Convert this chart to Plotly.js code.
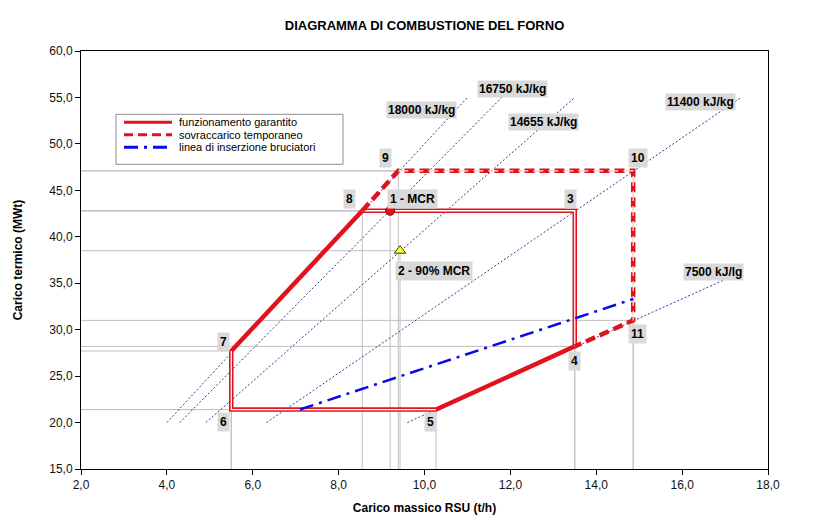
<!DOCTYPE html>
<html>
<head>
<meta charset="utf-8">
<script src="https://cdn.plot.ly/plotly-3.0.1.min.js"></script>
<style>html,body{margin:0;padding:0;background:#fff;}#chart{width:836px;height:523px;}</style>
</head>
<body>
<div id="chart"></div>
<script>
// ---- Data ----
const pointNames = ['1 - MCR', '2 - 90% MCR', '3', '4', '5', '6', '7', '8', '9', '10', '11'];
const pointX = [9.2, 9.43, 13.5, 13.5, 10.27, 5.5, 5.5, 8.55, 9.39, 14.86, 14.86];
const pointY = [42.8, 38.5, 42.8, 28.2, 21.4, 21.4, 27.7, 42.8, 47.1, 47.1, 31.0];

// label positions (data coords) for point tags
const tagX = [9.71, 10.22, 13.39, 13.5, 10.15, 5.33, 5.33, 8.26, 9.08, 14.97, 14.97];
const tagY = [44.1, 36.3, 44.1, 26.6, 20.1, 20.1, 28.7, 44.1, 48.5, 48.5, 29.5];

// guaranteed operation envelope: 8-3-4-5-6-7-8
const guaranteedOrder = ['8', '3', '4', '5', '6', '7', '8'];
const guaranteedDouble = [['8', '3', '4'], ['5', '6', '7']];
// temporary overload: 8-9-10-11-4
const overloadOrder = ['8', '9', '10', '11', '4'];
const overloadDouble = [['9', '10', '11']];

// burner insertion line
const burnerX = [7.1, 14.86];
const burnerY = [21.4, 33.3];

// iso heating-value lines
const isoNames = ['18000 kJ/kg', '16750 kJ/kg', '14655 kJ/kg', '11400 kJ/kg', '7500 kJ/lg'];
const isoX0 = [4.0, 4.3, 4.91, 6.32, 9.6];
const isoY0 = [20, 20, 20, 20, 20];
const isoX1 = [11.0, 11.8, 13.5, 17.37, 17.0];
const isoY1 = [55, 55, 55, 55, 35.4];
const isoTagX = [9.94, 12.06, 12.78, 16.42, 16.74];
const isoTagY = [53.7, 55.9, 52.4, 54.5, 36.2];

const xTicks = [2, 4, 6, 8, 10, 12, 14, 16, 18];
const yTicks = [15, 20, 25, 30, 35, 40, 45, 50, 55, 60];

const legendNames = ['funzionamento garantito', 'sovraccarico temporaneo', 'linea di inserzione bruciatori'];

// ---- build ----
const idx = n => pointNames.indexOf(n);
const px = n => pointX[idx(n)];
const py = n => pointY[idx(n)];

const RED = '#e0121c';
const BLUE = '#0a0ae6';
const FONT = 'Arial, Liberation Sans, sans-serif';
const traces = [];

// drop lines to axes
const dropX = [], dropY = [];
for (let i = 0; i < pointX.length; i++) {
  dropX.push(pointX[i], pointX[i], null, 2, pointX[i], null);
  dropY.push(15, pointY[i], null, pointY[i], pointY[i], null);
}
traces.push({x: dropX, y: dropY, mode: 'lines', line: {color: '#c0c0c0', width: 1}, hoverinfo: 'skip'});

// iso lines
const isoLX = [], isoLY = [];
for (let i = 0; i < isoNames.length; i++) {
  isoLX.push(isoX0[i], isoX1[i], null);
  isoLY.push(isoY0[i], isoY1[i], null);
}
traces.push({x: isoLX, y: isoLY, mode: 'lines', line: {color: '#3a3a8e', width: 1, dash: '2px,2px'}, hoverinfo: 'skip'});

// guaranteed envelope
traces.push({x: guaranteedOrder.map(px), y: guaranteedOrder.map(py), mode: 'lines',
  name: legendNames[0], line: {color: RED, width: 4.5}, hoverinfo: 'skip'});
guaranteedDouble.forEach(seg => traces.push({x: seg.map(px), y: seg.map(py), mode: 'lines',
  line: {color: '#ffffff', width: 1.3}, hoverinfo: 'skip'}));

// overload
const ovDash = '10px,5px';
traces.push({x: overloadOrder.map(px), y: overloadOrder.map(py), mode: 'lines',
  name: legendNames[1], line: {color: RED, width: 4.5, dash: ovDash}, hoverinfo: 'skip'});
overloadDouble.forEach(seg => traces.push({x: seg.map(px), y: seg.map(py), mode: 'lines',
  line: {color: '#ffe0e0', width: 1.3, dash: ovDash}, hoverinfo: 'skip'}));

// burner line
const bDash = '14px,6px,3px,6px';
traces.push({x: burnerX, y: burnerY, mode: 'lines', name: legendNames[2],
  line: {color: BLUE, width: 2.5, dash: bDash}, hoverinfo: 'skip'});

// markers
traces.push({x: [px('1 - MCR')], y: [py('1 - MCR')], mode: 'markers',
  marker: {symbol: 'circle', size: 9, color: RED, line: {color: '#8b0000', width: 1}}});
traces.push({x: [px('2 - 90% MCR')], y: [py('2 - 90% MCR')], mode: 'markers',
  marker: {symbol: 'triangle-up', size: 10, color: '#ffff33', line: {color: '#404000', width: 1}}});

const annFont = {family: FONT, size: 12, color: '#000'};
const annotations = [];
pointNames.forEach((n, i) => annotations.push({x: tagX[i], y: tagY[i], xref: 'x', yref: 'y', text: '<b>' + n + '</b>',
  showarrow: false, bgcolor: '#d9d9d9', font: annFont, borderpad: 2}));
isoNames.forEach((n, i) => annotations.push({x: isoTagX[i], y: isoTagY[i], xref: 'x', yref: 'y', text: '<b>' + n + '</b>',
  showarrow: false, bgcolor: '#d9d9d9', font: annFont, borderpad: 1}));

// custom legend box (paper coordinates)
const plotL = 81, plotW = 687, plotB = 468.7, plotH = 418;
const pX = v => (v - plotL) / plotW;
const pY = v => (plotB - v) / plotH;
const shapes = [];
shapes.push({type: 'rect', xref: 'paper', yref: 'paper', x0: pX(116), x1: pX(343), y0: pY(114), y1: pY(164),
  line: {color: '#8c8c8c', width: 1}, fillcolor: '#ffffff', layer: 'above'});
const legStyles = [
  {color: RED, width: 3, dash: 'solid'},
  {color: RED, width: 3, dash: '9px,5px'},
  {color: BLUE, width: 3, dash: '14px,6px,3px,6px'}
];
const legRowY = [122, 134.5, 147];
legendNames.forEach((n, i) => {
  shapes.push({type: 'line', xref: 'paper', yref: 'paper', x0: pX(124), x1: pX(172), y0: pY(legRowY[i]), y1: pY(legRowY[i]),
    line: legStyles[i], layer: 'above'});
  annotations.push({xref: 'paper', yref: 'paper', x: pX(177), y: pY(legRowY[i]), xanchor: 'left', yanchor: 'middle',
    text: n, showarrow: false, font: {family: FONT, size: 11, color: '#000'}});
});

const tickFont = {family: FONT, size: 12, color: '#111'};
const layout = {
  width: 836, height: 523,
  margin: {l: 81, r: 68, t: 51, b: 54},
  paper_bgcolor: '#fff', plot_bgcolor: '#fff',
  separators: ',.',
  showlegend: false,
  title: {text: '<b>DIAGRAMMA DI COMBUSTIONE DEL FORNO</b>', x: 0.5, xref: 'paper', y: 0.952, yref: 'container', yanchor: 'middle',
    font: {family: FONT, size: 13, color: '#000'}},
  xaxis: {range: [2, 18], tickvals: xTicks, tickformat: '.1f', showgrid: false, zeroline: false,
    showline: true, linecolor: '#000', linewidth: 1, mirror: true, ticks: 'outside', ticklen: 5, tickcolor: '#000',
    tickfont: tickFont,
    title: {text: '<b>Carico massico RSU (t/h)</b>', font: {family: FONT, size: 12, color: '#000'}, standoff: 12}},
  yaxis: {range: [15, 60], tickvals: yTicks, tickformat: '.1f', showgrid: false, zeroline: false,
    showline: true, linecolor: '#000', linewidth: 1, mirror: true, ticks: 'outside', ticklen: 5, tickcolor: '#000',
    tickfont: tickFont,
    title: {text: '<b>Carico termico (MWt)</b>', font: {family: FONT, size: 12, color: '#000'}, standoff: 24}},
  annotations: annotations,
  shapes: shapes
};

Plotly.newPlot('chart', traces, layout, {displayModeBar: false, staticPlot: true});
</script>
</body>
</html>
